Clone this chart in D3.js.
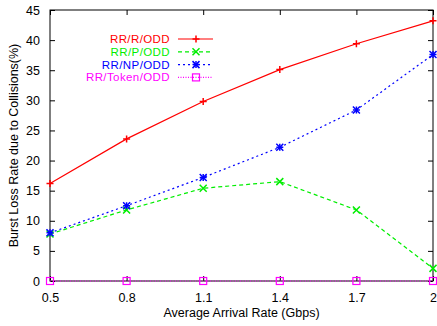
<!DOCTYPE html>
<html>
<head>
<meta charset="utf-8">
<script src="https://cdn.jsdelivr.net/npm/d3@7"></script>
<style>
  body { margin: 0; background: #fff; }
  svg { font-family: "Liberation Sans", Arial, sans-serif; }
</style>
</head>
<body>
<svg width="437" height="326"></svg>
<script>
const rates = [0.5, 0.8, 1.1, 1.4, 1.7, 2];
const xTickLabels = ["0.5", "0.8", "1.1", "1.4", "1.7", "2"];
const yTicks = [0, 5, 10, 15, 20, 25, 30, 35, 40, 45];
const rrR = [16.2, 23.6, 29.8, 35.1, 39.4, 43.2];
const rrP = [7.8, 11.8, 15.4, 16.5, 11.8, 2.1];
const rrNP = [8.0, 12.5, 17.2, 22.2, 28.4, 37.6];
const rrToken = [0, 0, 0, 0, 0, 0];

const series = [
  { name: "RR/R/ODD", values: rrR, color: "#ff0000", dash: null, marker: "plus" },
  { name: "RR/P/ODD", values: rrP, color: "#00ee00", dash: "4,3", marker: "cross" },
  { name: "RR/NP/ODD", values: rrNP, color: "#0000ff", dash: "2,3", marker: "star" },
  { name: "RR/Token/ODD", values: rrToken, color: "#ff00ff", dash: "1,1.5", marker: "box" }
];

const width = 437, height = 326;
const margin = { top: 10, right: 4, bottom: 45, left: 50 };

const svg = d3.select("svg");

const x = d3.scaleLinear().domain([0.5, 2]).range([margin.left, width - margin.right]);
const y = d3.scaleLinear().domain([0, 45]).range([height - margin.bottom, margin.top]);

// frame
svg.append("rect")
  .attr("x", x(0.5)).attr("y", y(45))
  .attr("width", x(2) - x(0.5)).attr("height", y(0) - y(45))
  .attr("fill", "none").attr("stroke", "#000").attr("stroke-width", 1);

// axes with inward ticks
const tk = 5;
const xb = svg.append("g").attr("transform", `translate(0,${y(0)})`)
  .call(d3.axisBottom(x).tickValues(rates).tickFormat((d, i) => xTickLabels[i]).tickSize(-tk).tickPadding(12));
const xt = svg.append("g").attr("transform", `translate(0,${y(45)})`)
  .call(d3.axisTop(x).tickValues(rates).tickSize(-tk).tickFormat(""));
const yl = svg.append("g").attr("transform", `translate(${x(0.5)},0)`)
  .call(d3.axisLeft(y).tickValues(yTicks).tickSize(-tk).tickPadding(10));
const yr = svg.append("g").attr("transform", `translate(${x(2)},0)`)
  .call(d3.axisRight(y).tickValues(yTicks).tickSize(-tk).tickFormat(""));
[xb, xt, yl, yr].forEach(g => {
  g.select(".domain").remove();
  g.selectAll("line").attr("stroke", "#000");
  g.selectAll("text").attr("font-size", 12.5).attr("fill", "#000").attr("font-family", "Liberation Sans, Arial, sans-serif");
});

// axis titles
svg.append("text")
  .attr("x", (x(0.5) + x(2)) / 2).attr("y", 317)
  .attr("text-anchor", "middle").attr("font-size", 12.5)
  .text("Average Arrival Rate (Gbps)");
svg.append("text")
  .attr("transform", `translate(18,${(y(0) + y(45)) / 2}) rotate(-90)`)
  .attr("text-anchor", "middle").attr("font-size", 12.5)
  .text("Burst Loss Rate due to Collisions(%)");

function drawMarker(g, type, cx, cy, color) {
  const s = 3.5;
  if (type === "plus" || type === "star") {
    g.append("path").attr("d", `M${cx - s},${cy}H${cx + s}M${cx},${cy - s}V${cy + s}`)
      .attr("stroke", color).attr("stroke-width", 1.5).attr("fill", "none");
  }
  if (type === "cross" || type === "star") {
    g.append("path").attr("d", `M${cx - s},${cy - s}L${cx + s},${cy + s}M${cx - s},${cy + s}L${cx + s},${cy - s}`)
      .attr("stroke", color).attr("stroke-width", 1.5).attr("fill", "none");
  }
  if (type === "box") {
    g.append("rect").attr("x", cx - s).attr("y", cy - s).attr("width", 2 * s).attr("height", 2 * s)
      .attr("stroke", color).attr("stroke-width", 1.2).attr("fill", "none");
  }
}

const line = d3.line().x((d, i) => x(rates[i])).y(d => y(d));

series.forEach(s => {
  const g = svg.append("g");
  g.append("path").datum(s.values)
    .attr("d", line).attr("fill", "none")
    .attr("stroke", s.color).attr("stroke-width", 1.2)
    .attr("stroke-dasharray", s.dash);
  s.values.forEach((v, i) => drawMarker(g, s.marker, x(rates[i]), y(v), s.color));
});

// legend
const legendY = [39, 51.8, 64.6, 77.4];
series.forEach((s, i) => {
  const ly = legendY[i];
  svg.append("text")
    .attr("x", 170).attr("y", ly).attr("dy", "0.35em")
    .attr("text-anchor", "end").attr("font-size", 11.5).attr("fill", s.color)
    .attr("letter-spacing", 0.4)
    .text(s.name);
  svg.append("line")
    .attr("x1", 178).attr("x2", 213).attr("y1", ly).attr("y2", ly)
    .attr("stroke", s.color).attr("stroke-width", 1.2).attr("stroke-dasharray", s.dash);
  drawMarker(svg, s.marker, 196, ly, s.color);
});
</script>
</body>
</html>
